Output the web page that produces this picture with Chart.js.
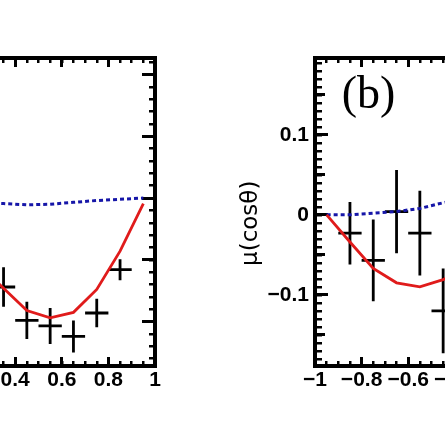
<!DOCTYPE html>
<html><head><meta charset="utf-8">
<script src="https://cdn.jsdelivr.net/npm/chart.js@4.4.1/dist/chart.umd.min.js"></script>
<style>
html,body{margin:0;padding:0;background:#fff;overflow:hidden;width:445px;height:445px;position:relative;}
canvas{position:absolute;top:0;}
#ca{left:-200px;}
#cb{left:200px;}
</style></head><body>
<canvas id="ca" width="400" height="445"></canvas>
<canvas id="cb" width="400" height="445"></canvas>
<script>
// ---------- Panel (a) (mostly cropped on the left) ----------
const aBinX    = [0.35, 0.45, 0.55, 0.65, 0.75, 0.85];
const aDataY   = [-0.144, -0.198, -0.207, -0.224, -0.186, -0.116];
const aDataErr = [0.032, 0.030, 0.029, 0.026, 0.023, 0.017];
const aModelX  = [0.25, 0.35, 0.45, 0.55, 0.65, 0.75, 0.85, 0.95];
const aRedY    = [-0.110, -0.146, -0.182, -0.194, -0.185, -0.148, -0.086, -0.009];
const aBlueY   = [-0.008, -0.009, -0.011, -0.010, -0.007, -0.004, -0.002, 0.000];
const aXRange  = [0, 1];
const aYRange  = [-0.2718, 0.2266];

// ---------- Panel (b) ----------
const bBinX    = [-0.85, -0.75, -0.65, -0.55, -0.45];
const bDataY   = [-0.023, -0.057, 0.004, -0.023, -0.120];
const bDataErr = [0.039, 0.051, 0.052, 0.053, 0.053];
const bModelX  = [-0.95, -0.85, -0.75, -0.65, -0.55, -0.45, -0.35];
const bRedY    = [0.000, -0.034, -0.067, -0.085, -0.090, -0.081, -0.068];
const bBlueY   = [0.000, 0.000, 0.002, 0.004, 0.008, 0.015, 0.021];
const bXRange  = [-1, 0];
const bYRange  = [-0.189, 0.196];
const bLabel   = '(b)';
const bYTitle  = 'μ(cosθ)';

const binHalfWidth = 0.05;

function fmt(v){ const r = Math.round(v*1000)/1000; return (r < 0 ? '\u2212' : '') + Math.abs(r); }
const numFont = {family:'"Liberation Sans", Arial, Helvetica, sans-serif', size:21, weight:'bold'};

function pts(xs, ys){ return xs.map((x,i)=>({x, y: ys[i]})); }
function errV(xs, ys, es){ const d=[]; xs.forEach((x,i)=>{ d.push({x, y: ys[i]-es[i]}, {x, y: ys[i]+es[i]}, {x, y: null}); }); return d; }
function errH(xs, ys, hw){ const d=[]; xs.forEach((x,i)=>{ d.push({x: x-hw, y: ys[i]}, {x: x+hw, y: ys[i]}, {x, y: null}); }); return d; }

function tickAxis(position, range, step, len, w, weight, opts){
  opts = opts || {};
  const horiz = position === 'top' || position === 'bottom';
  const labels = !!opts.labels;
  return {
    type:'linear', position, min: range[0], max: range[1], weight,
    ticks: labels ? {display:true, stepSize:step, includeBounds:false, autoSkip:false, maxRotation:0,
                      font:numFont, color:'#000', padding:opts.padding, callback:(v)=>fmt(v)}
                  : {display:false, stepSize:step, includeBounds:false, autoSkip:false},
    grid: {display:true, drawOnChartArea:false, drawTicks:true, tickLength:len, tickWidth:w, tickColor:'#000', color:'#000', lineWidth:w},
    border: opts.border ? {display:true, width:4, color:'#000'} : {display:false},
    title: {display:false},
    afterFit: (s)=>{ const size = opts.size || 0; if (horiz) s.height = size; else s.width = size; }
  };
}

function datasets(binX, dataY, dataErr, modelX, redY, blueY){
  return [
    {data: pts(modelX, redY), borderColor:'#e01b1b', borderWidth:2.8, pointRadius:0, tension:0, fill:false},
    {data: pts(modelX, blueY), borderColor:'#1616a8', borderWidth:3, borderDash:[4,3], pointRadius:0, tension:0, fill:false},
    {data: errV(binX, dataY, dataErr), borderColor:'#000', borderWidth:2.8, pointRadius:0, spanGaps:false, fill:false},
    {data: errH(binX, dataY, binHalfWidth), borderColor:'#000', borderWidth:2.8, pointRadius:0, spanGaps:false, fill:false}
  ];
}

const common = {
  responsive:false, animation:false, devicePixelRatio:1,
  plugins:{legend:{display:false}, tooltip:{enabled:false}, title:{display:false}},
  events:[]
};

// Panel (a)
new Chart(document.getElementById('ca'), {
  type:'line',
  data:{datasets: datasets(aBinX, aDataY, aDataErr, aModelX, aRedY, aBlueY)},
  options: Object.assign({}, common, {
    layout:{padding:{left:62, right:45, top:58, bottom:29}},
    scales:{
      x:  tickAxis('bottom', aXRange, 0.2, -9, 3, 1, {labels:true, padding:11, border:true, size:50}),
      xm: tickAxis('bottom', aXRange, 0.05, -5, 2.5, 0),
      xt: tickAxis('top', aXRange, 0.2, -9, 3, 1, {border:true}),
      xtm:tickAxis('top', aXRange, 0.05, -5, 2.5, 0),
      y:  tickAxis('left', aYRange, 0.1, -13, 3, 1, {labels:true, padding:19, border:true, size:60}),
      yn: tickAxis('left', aYRange, 0.02, -6, 2.5, 0),
      yr: tickAxis('right', aYRange, 0.1, -13, 3, 1, {border:true}),
      yrn:tickAxis('right', aYRange, 0.02, -6, 2.5, 0)
    }
  })
});

// Panel (b)
const panelText = {
  id:'panelText',
  afterDraw(chart){
    const {ctx, chartArea} = chart; const xs = chart.scales.x, ys = chart.scales.y;
    ctx.save();
    ctx.fillStyle = '#000';
    ctx.font = '46px "Liberation Serif", "Times New Roman", serif';
    ctx.textAlign = 'left'; ctx.textBaseline = 'alphabetic';
    ctx.fillText(bLabel, xs.getPixelForValue(-0.885), ys.getPixelForValue(0.134));
    ctx.translate(chartArea.left - 64, ys.getPixelForValue(-0.0106));
    ctx.rotate(-Math.PI/2);
    ctx.font = '23px "DejaVu Sans", sans-serif';
    ctx.textAlign = 'center'; ctx.textBaseline = 'middle';
    ctx.fillText(bYTitle, 0, 0);
    ctx.restore();
  }
};

new Chart(document.getElementById('cb'), {
  type:'line',
  data:{datasets: datasets(bBinX, bDataY, bDataErr, bModelX, bRedY, bBlueY)},
  options: Object.assign({}, common, {
    layout:{padding:{left:37, right:52, top:58, bottom:29}},
    scales:{
      x:  tickAxis('bottom', bXRange, 0.2, -9, 3, 1, {labels:true, padding:11, border:true, size:50}),
      xm: tickAxis('bottom', bXRange, 0.05, -5, 2.5, 0),
      xt: tickAxis('top', bXRange, 0.2, -9, 3, 1, {border:true}),
      xtm:tickAxis('top', bXRange, 0.05, -5, 2.5, 0),
      y:  tickAxis('left', bYRange, 0.1, -13, 3, 2, {labels:true, padding:19, border:true, size:78}),
      ym: tickAxis('left', bYRange, 0.05, -10, 3, 1),
      yn: tickAxis('left', bYRange, 0.01, -7, 2.5, 0),
      yr: tickAxis('right', bYRange, 0.1, -13, 3, 2, {border:true}),
      yrm:tickAxis('right', bYRange, 0.05, -10, 3, 1),
      yrn:tickAxis('right', bYRange, 0.01, -7, 2.5, 0)
    }
  }),
  plugins:[panelText]
});
</script>
</body></html>
